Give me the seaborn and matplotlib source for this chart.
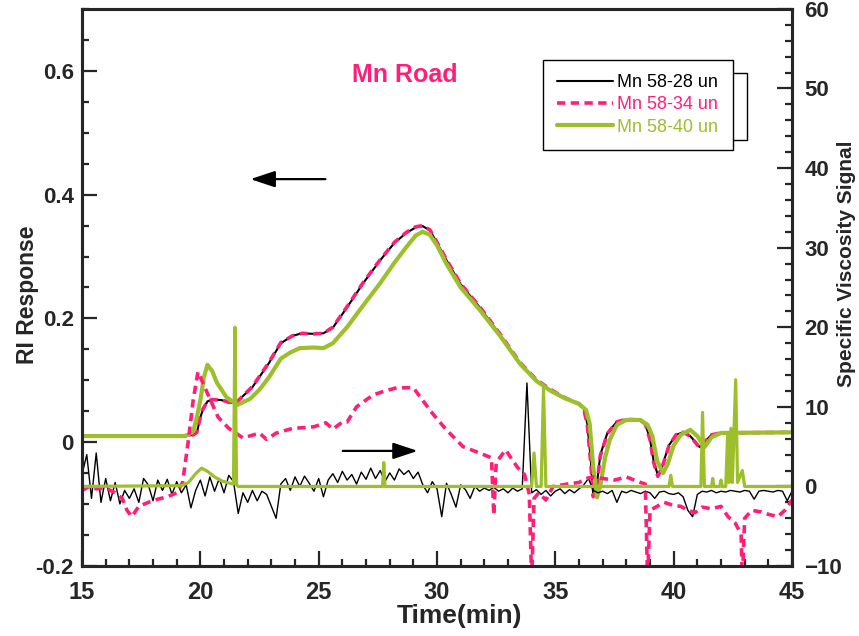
import numpy as np
import pandas as pd
import matplotlib
matplotlib.use("Agg")
import matplotlib.pyplot as plt
import seaborn as sns
from matplotlib.ticker import MultipleLocator, FixedLocator, FixedFormatter
from matplotlib.patches import Rectangle

sns.set_style("ticks")
plt.rcParams["font.family"] = ["Liberation Sans", "DejaVu Sans"]
NARROW = ["Liberation Sans Narrow", "Liberation Sans", "DejaVu Sans"]

BLACK = "#000000"
PINK = "#FF1F78"
GREEN = "#9DBF2C"

# ---- RI response (left axis) ----
ri_t_28 = [15.0, 19.4, 19.7, 19.85, 20.0, 20.1, 20.3, 20.5, 20.9, 21.2, 21.5, 21.7, 22.2, 22.9,
           23.4, 23.9, 24.3, 24.8, 25.2, 25.6, 26.2, 26.9, 27.6, 28.2, 28.7, 29.1, 29.4, 29.7,
           30.0, 30.4, 31.0, 31.8, 32.7, 33.5, 34.2, 34.8, 35.4, 36.0, 36.2, 36.35, 36.5, 36.6,
           36.75, 36.9, 37.2, 37.6, 38.0, 38.5, 38.8, 39.0, 39.15, 39.33, 39.5, 39.8, 40.1, 40.4,
           40.7, 41.1, 41.3, 41.6, 42.0, 45.0]
ri_28 = [0.010, 0.010, 0.012, 0.015, 0.040, 0.052, 0.066, 0.069, 0.068, 0.064, 0.063, 0.071, 0.089,
         0.128, 0.160, 0.172, 0.176, 0.175, 0.176, 0.185, 0.218, 0.258, 0.294, 0.322, 0.338, 0.347,
         0.349, 0.342, 0.322, 0.294, 0.255, 0.218, 0.172, 0.128, 0.100, 0.084, 0.072, 0.062, 0.055,
         0.030, -0.030, -0.085, -0.070, -0.020, 0.015, 0.033, 0.037, 0.036, 0.030, 0.005, -0.030,
         -0.053, -0.040, -0.005, 0.012, 0.016, 0.010, -0.008, 0.000, 0.012, 0.015, 0.016]
ri_34 = [0.010, 0.010, 0.012, 0.016, 0.041, 0.053, 0.066, 0.069, 0.068, 0.065, 0.063, 0.071, 0.090,
         0.129, 0.161, 0.172, 0.176, 0.175, 0.176, 0.186, 0.219, 0.259, 0.295, 0.323, 0.339, 0.348,
         0.350, 0.343, 0.323, 0.295, 0.256, 0.219, 0.173, 0.129, 0.101, 0.085, 0.072, 0.062, 0.054,
         0.028, -0.035, -0.088, -0.072, -0.022, 0.014, 0.033, 0.037, 0.036, 0.030, 0.004, -0.032,
         -0.055, -0.042, -0.006, 0.012, 0.016, 0.010, -0.009, 0.000, 0.012, 0.015, 0.016]
ri_t_40 = [15.0, 19.3, 19.5, 19.7, 19.85, 20.0, 20.15, 20.3, 20.5, 20.7, 21.1, 21.55, 22.1, 22.5,
           22.9, 23.4, 23.8, 24.2, 24.8, 25.2, 25.6, 26.2, 26.9, 27.6, 28.2, 28.7, 29.1, 29.4,
           29.7, 30.0, 30.4, 31.0, 31.8, 32.7, 33.5, 34.2, 34.8, 35.4, 36.0, 36.3, 36.45, 36.6,
           36.76, 36.9, 37.1, 37.3, 37.6, 38.0, 38.6, 38.9, 39.1, 39.3, 39.55, 39.75, 40.0, 40.3,
           40.7, 41.0, 41.3, 41.6, 42.0, 45.0]
ri_40 = [0.010, 0.010, 0.012, 0.018, 0.040, 0.068, 0.105, 0.125, 0.115, 0.096, 0.073, 0.060, 0.070,
         0.085, 0.105, 0.135, 0.145, 0.152, 0.153, 0.152, 0.160, 0.186, 0.222, 0.257, 0.290, 0.315,
         0.334, 0.340, 0.335, 0.318, 0.288, 0.250, 0.214, 0.170, 0.127, 0.099, 0.083, 0.071, 0.062,
         0.052, 0.030, -0.040, -0.089, -0.070, -0.025, 0.004, 0.028, 0.036, 0.036, 0.028, 0.010,
         -0.030, -0.050, -0.035, -0.005, 0.012, 0.020, 0.010, -0.008, 0.008, 0.015, 0.016]

# ---- specific viscosity signal (right axis) ----
visc_t_28 = np.round(np.arange(15.0, 45.01, 0.2), 1)
visc_28 = [1.5, 4.0, -1.5, 4.2, -2.0, 1.0, -1.8, 0.5, -2.2, -0.5, -1.5, -0.3, -2.0, 1.0, 0.2, -1.8,
           0.8, -0.5, 0.9, -1.0, 0.6, -0.8, 0.2, -2.7, -0.5, 0.8, -1.2, 1.2, -0.6, 1.0, -0.8, 1.4,
           0.6, -3.4, -0.8, -2.0, -0.5, -1.8, -0.6, -1.0, -2.5, -4.0, 0.3, 1.0, -0.5, 1.2, 0.0, 1.3,
           0.4, -0.6, 1.0, -1.3, 0.8, 1.6, 0.5, 1.9, 0.8, 1.5, 0.3, 1.8, 0.9, 2.3, 1.0, 2.0, 0.6,
           1.7, 0.8, 2.2, 1.5, 2.0, 1.0, 1.8, 0.2, -0.8, 0.6, -0.3, -3.8, 0.4, -1.0, -2.6, 0.2, -0.4,
           -1.5, 0.0, -0.6, -0.2, -0.5, -0.1, -0.6, -0.3, -0.8, -0.2, -0.6, -0.3, 13.0, -0.8, -0.4,
           -1.0, -0.5, -1.2, -0.6, -0.3, -0.9, -0.4, -0.8, -0.3, 0.2, 1.0, -0.5, -0.8, -0.6, -0.9,
           -0.5, -2.0, -0.6, -0.8, -0.5, -0.7, -0.9, -0.6, -0.8, -1.5, -0.7, -0.6, -0.9, -1.0, -0.8,
           -1.3, -3.0, -3.8, -1.0, -0.6, -0.7, -0.5, -0.8, -0.6, -0.7, -0.5, -0.6, -0.7, -0.5, -0.6,
           -1.6, -0.6, -0.5, -0.6, -0.7, -0.5, -0.6, -1.8, -0.6]

visc_t_34 = [15.0, 15.3, 15.6, 16.0, 16.4, 16.7, 16.9, 17.1, 17.4, 17.8, 18.2, 18.6, 19.0, 19.25,
             19.48, 19.7, 19.9, 20.3, 20.75, 21.2, 21.8, 22.5, 22.8, 23.2, 23.9, 24.4, 24.8, 25.3,
             25.6, 26.0, 26.2, 26.6, 27.3, 27.8, 28.3, 29.0, 29.3, 29.8, 30.4, 31.1, 31.8, 32.3,
             32.4, 32.5, 32.9, 33.1, 33.4, 33.7, 33.9, 34.0, 34.1, 34.3, 34.6, 34.9, 35.5, 36.0,
             36.3, 36.6, 37.0, 37.5, 38.0, 38.5, 38.8, 38.9, 39.0, 39.3, 39.6, 40.0, 40.3, 40.6,
             40.9, 41.2, 41.6, 42.0, 42.3, 42.6, 42.85, 42.9, 43.0, 43.3, 43.7, 44.0, 44.4, 44.7, 45.0]
visc_34 = [-0.5, 0.0, -0.3, -0.2, -0.8, -1.5, -3.0, -3.8, -2.5, -2.0, -1.6, -1.3, -0.8, 0.5,
           5.5, 10.9, 14.4, 11.7, 8.7, 7.3, 6.1, 6.7, 5.9, 6.7, 7.3, 7.4, 7.5, 8.0,
           7.2, 8.1, 8.1, 10.0, 11.5, 12.0, 12.4, 12.4, 11.2, 9.2, 7.1, 5.0, 4.2, 3.6,
           -3.6, 3.0, 4.6, 3.7, 2.4, 1.5, -1.0, -12.0, -1.5, -0.8, -1.7, 0.0, 0.3, 0.5,
           1.0, 1.2, 1.0, 0.8, 1.2, 0.6, 0.3, -12.0, -3.0, -2.5, -2.0, -2.4, -2.5, -3.0,
           -3.3, -2.6, -2.8, -2.5, -3.8, -4.6, -6.0, -12.0, -4.0, -3.0, -3.2, -3.5, -3.8, -3.0, -1.7]

visc_t_40 = [15.0, 19.2, 19.5, 19.8, 20.05, 20.3, 20.6, 20.9, 21.25, 21.4, 21.46, 21.53, 21.6,
             27.7, 27.75, 27.8, 34.0, 34.1, 34.2, 34.4, 34.5, 34.6, 39.8, 39.88, 39.95, 41.15,
             41.22, 41.3, 41.6, 41.65, 41.7, 41.95, 42.0, 42.05, 42.2, 42.28, 42.34, 42.42, 42.48,
             42.62, 42.7, 42.9, 43.0, 45.0]
visc_40 = [0.0, 0.1, 0.5, 1.6, 2.3, 1.9, 1.2, 0.7, 0.4, 0.3, 20.0, 0.2, 0.0,
           0.0, 3.0, 0.0, 0.0, 4.2, 0.0, 0.0, 12.4, 0.0, 0.0, 1.4, 0.0, 0.0,
           9.3, 0.0, 0.0, 1.0, 0.0, 0.0, 0.8, 0.0, 0.0, 6.5, 0.5, 7.3, 0.5,
           13.4, 0.5, 2.0, 0.0, 0.0]

labels = ["Mn 58-28 un", "Mn 58-34 un", "Mn 58-40 un"]
yticks_left = [-0.2, 0.0, 0.2, 0.4, 0.6]
yticklabels_left = ["-0.2", "0", "0.2", "0.4", "0.6"]

fig = plt.figure(figsize=(8.59, 6.36), dpi=100)
ax1 = fig.add_axes([0.0955, 0.110, 0.8265, 0.876])
ax2 = ax1.twinx()

dash = (0, (2.3, 1.5))
sns.lineplot(x=ri_t_28, y=ri_28, ax=ax1, color=BLACK, lw=1.5, estimator=None, label=labels[0])
sns.lineplot(x=ri_t_28, y=ri_34, ax=ax1, color=PINK, lw=2.6, linestyle=dash, estimator=None, label=labels[1])
sns.lineplot(x=ri_t_40, y=ri_40, ax=ax1, color=GREEN, lw=3.0, estimator=None, label=labels[2])

sns.lineplot(x=visc_t_28, y=visc_28, ax=ax2, color=BLACK, lw=1.0, estimator=None)
sns.lineplot(x=visc_t_34, y=visc_34, ax=ax2, color=PINK, lw=2.6, linestyle=dash, estimator=None)
sns.lineplot(x=visc_t_40, y=visc_40, ax=ax2, color=GREEN, lw=2.3, estimator=None)

handles, leg_labels = ax1.get_legend_handles_labels()
if ax1.get_legend() is not None:
    ax1.get_legend().remove()
if ax2.get_legend() is not None:
    ax2.get_legend().remove()

ax1.set_xlim(15, 45)
ax1.set_ylim(-0.2, 0.7)
ax2.set_ylim(-10, 60)
ax1.xaxis.set_major_locator(MultipleLocator(5))
ax1.xaxis.set_minor_locator(MultipleLocator(1))
ax1.yaxis.set_major_locator(FixedLocator(yticks_left))
ax1.yaxis.set_major_formatter(FixedFormatter(yticklabels_left))
ax1.yaxis.set_minor_locator(MultipleLocator(0.05))
ax2.yaxis.set_major_locator(MultipleLocator(10))
ax2.yaxis.set_minor_locator(MultipleLocator(2))

for ax in (ax1, ax2):
    for s in ax.spines.values():
        s.set_linewidth(2.2)
        s.set_visible(True)
ax1.tick_params(which="both", direction="in", top=False, right=False, width=1.6)
ax1.tick_params(which="major", length=11)
ax1.tick_params(which="minor", length=5)
ax1.tick_params(axis="x", pad=11)
ax1.tick_params(axis="y", pad=6)
ax2.tick_params(which="both", direction="in", width=1.6)
ax2.tick_params(which="major", length=11, pad=9)
ax2.tick_params(which="minor", length=5)
for lab in ax1.get_yticklabels() + ax2.get_yticklabels():
    lab.set_fontsize(16)
    lab.set_fontweight("bold")
for lab in ax1.get_xticklabels():
    lab.set_family(NARROW)
    lab.set_fontsize(17)
    lab.set_fontweight("bold")

ax1.set_xlabel("Time(min)", fontsize=19, fontweight="bold", family=NARROW)
ax1.set_ylabel("RI Response", fontsize=16.5, fontweight="bold")
ax2.set_ylabel("Specific Viscosity Signal", fontsize=15, fontweight="bold")
ax1.xaxis.set_label_coords(0.532, -0.068)
ax1.yaxis.set_label_coords(-0.060, 0.487)
ax2.yaxis.set_label_coords(1.063, 0.542)

ax1.text(28.65, 0.593, "Mn Road", color=PINK, fontsize=18, fontweight="bold", ha="center", va="center")

arrow = dict(arrowstyle="-|>,head_length=1.5,head_width=0.5", color="black", lw=1.6)
ax1.annotate("", xy=(22.0, 0.425), xytext=(25.4, 0.425), arrowprops=arrow)
ax1.annotate("", xy=(29.3, -0.014), xytext=(25.9, -0.014), arrowprops=arrow)

leg = ax2.legend(handles, leg_labels, loc="upper left", bbox_to_anchor=(0.632, 0.906),
                 bbox_transform=fig.transFigure, fontsize=13, handlelength=3.1, labelspacing=0.3,
                 handletextpad=0.25, borderpad=0.78, borderaxespad=0, fancybox=False, framealpha=1,
                 edgecolor="black")
leg.get_frame().set_linewidth(1.0)
for txt, c in zip(leg.get_texts(), [BLACK, PINK, GREEN]):
    txt.set_color(c)
leg.set_zorder(6)
shadow = Rectangle((0.634, 0.780), 0.236, 0.105, transform=fig.transFigure, fill=False,
                   edgecolor="black", lw=1.0, zorder=5, clip_on=False)
ax2.add_patch(shadow)

fig.savefig("out.png", dpi=100)
